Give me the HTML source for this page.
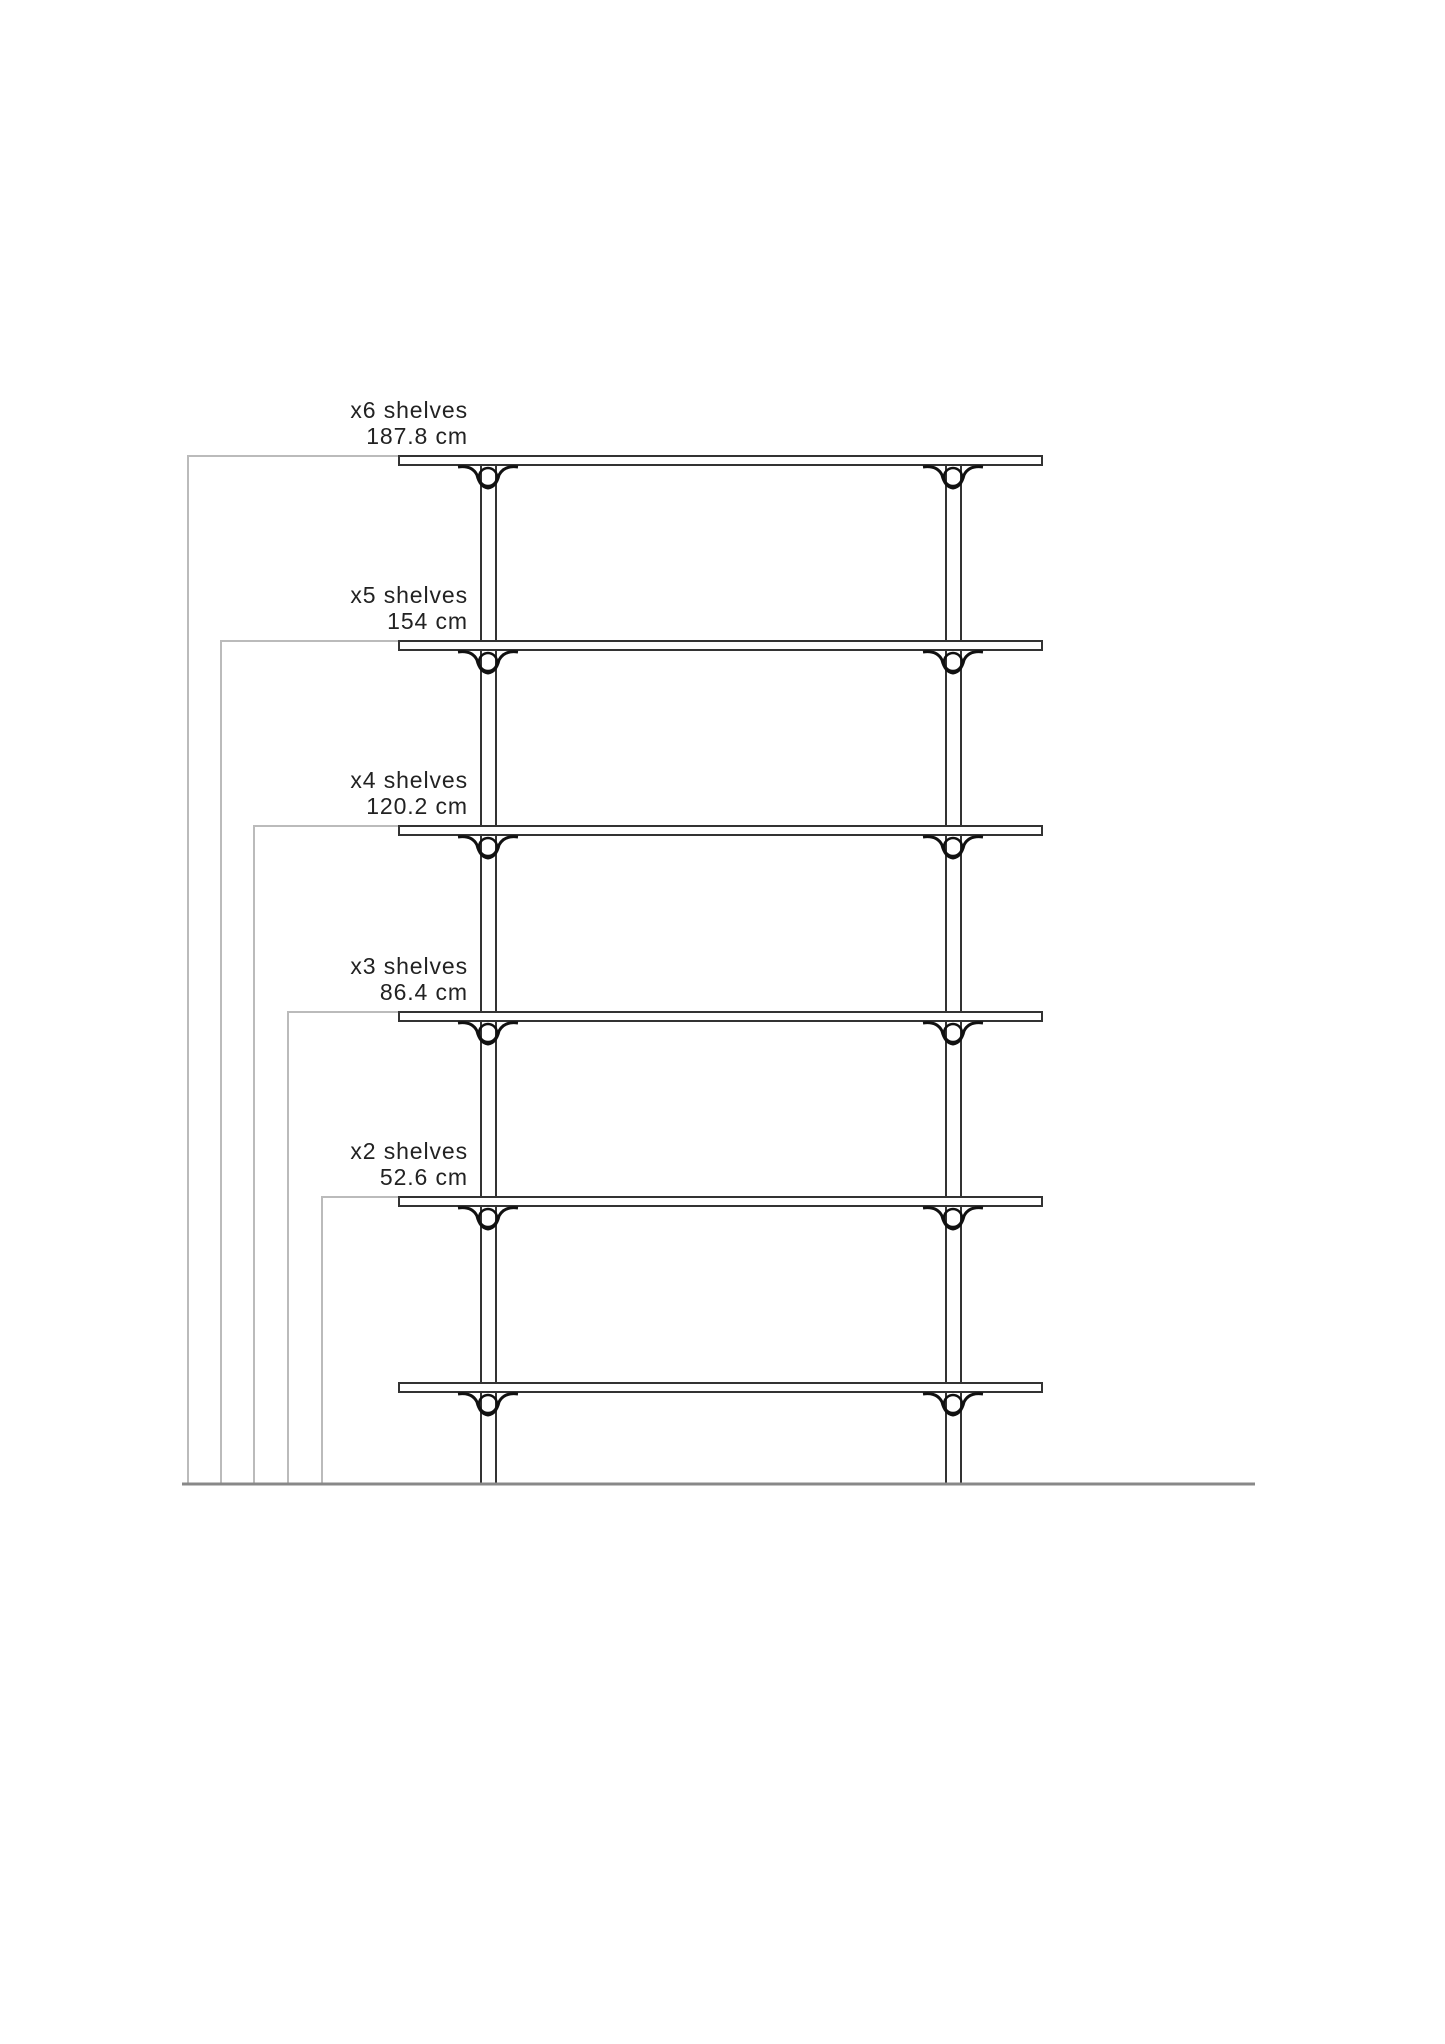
<!DOCTYPE html>
<html><head><meta charset="utf-8"><style>
html,body{margin:0;padding:0;background:#fff;}
svg{display:block;}
text{font-family:"Liberation Sans",sans-serif;font-size:23px;letter-spacing:0.9px;fill:#222;}
</style></head><body>
<svg width="1445" height="2044" viewBox="0 0 1445 2044" xmlns="http://www.w3.org/2000/svg">
<defs>
<g id="br" fill="none" stroke="#111" stroke-width="3">
<path d="M-30 2 Q-16 0 -11 10 Q-8 22 0 23 Q8 22 11 10 Q16 0 30 2"/>
<circle cx="0" cy="12" r="9" stroke-width="2.5"/>
</g>
</defs>
<g fill="none" stroke="#bbb" stroke-width="2">
<polyline points="399,456 188,456 188,1484"/>
<polyline points="399,641 221,641 221,1484"/>
<polyline points="399,826 254,826 254,1484"/>
<polyline points="399,1012 288,1012 288,1484"/>
<polyline points="399,1197 322,1197 322,1484"/>
</g>
<g stroke="#333" stroke-width="2">
<line x1="481" y1="456" x2="481" y2="1484"/>
<line x1="496" y1="456" x2="496" y2="1484"/>
<line x1="946" y1="456" x2="946" y2="1484"/>
<line x1="961" y1="456" x2="961" y2="1484"/>
</g>
<line x1="182" y1="1484" x2="1255" y2="1484" stroke="#888" stroke-width="3"/>
<g fill="#fff" stroke="#333" stroke-width="2">
<rect x="399" y="456" width="643" height="9"/>
<rect x="399" y="641" width="643" height="9"/>
<rect x="399" y="826" width="643" height="9"/>
<rect x="399" y="1012" width="643" height="9"/>
<rect x="399" y="1197" width="643" height="9"/>
<rect x="399" y="1383" width="643" height="9"/>
</g>
<use href="#br" x="488" y="465"/><use href="#br" x="953" y="465"/>
<use href="#br" x="488" y="650"/><use href="#br" x="953" y="650"/>
<use href="#br" x="488" y="835"/><use href="#br" x="953" y="835"/>
<use href="#br" x="488" y="1021"/><use href="#br" x="953" y="1021"/>
<use href="#br" x="488" y="1206"/><use href="#br" x="953" y="1206"/>
<use href="#br" x="488" y="1392"/><use href="#br" x="953" y="1392"/>
<g text-anchor="end">
<text x="468" y="418">x6 shelves</text><text x="468" y="444">187.8 cm</text>
<text x="468" y="603">x5 shelves</text><text x="468" y="629">154 cm</text>
<text x="468" y="788">x4 shelves</text><text x="468" y="814">120.2 cm</text>
<text x="468" y="974">x3 shelves</text><text x="468" y="1000">86.4 cm</text>
<text x="468" y="1159">x2 shelves</text><text x="468" y="1185">52.6 cm</text>
</g>
</svg>
</body></html>
